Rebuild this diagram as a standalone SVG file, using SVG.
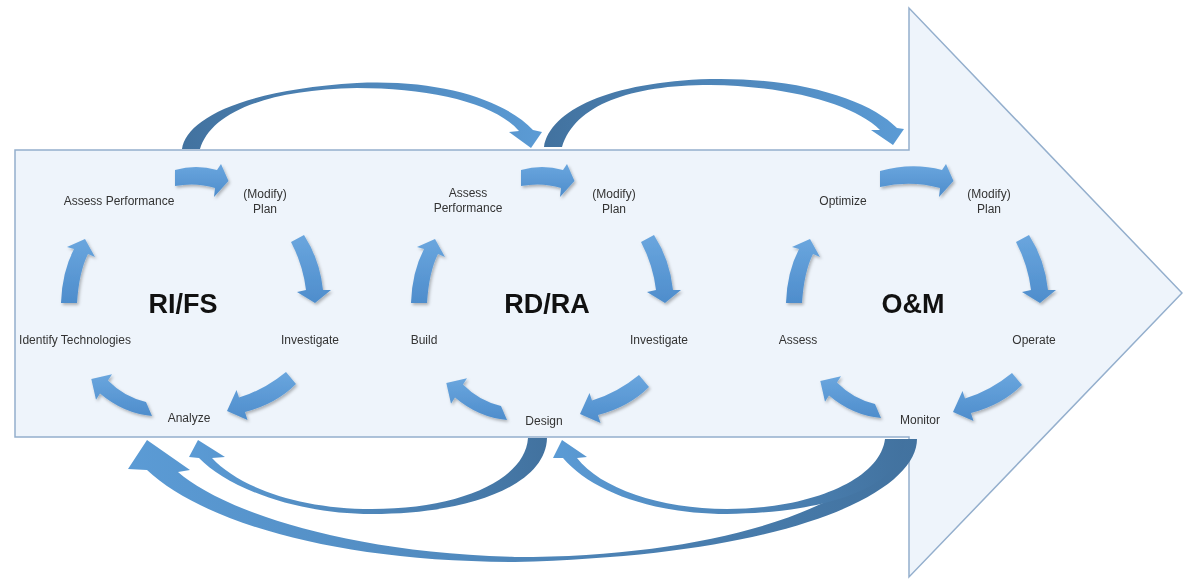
<svg xmlns="http://www.w3.org/2000/svg" width="1183" height="579" viewBox="0 0 1183 579">
<style>
  .lbl { font-family: "Liberation Sans", Arial, sans-serif; font-size: 12px; fill: #333; text-anchor: middle; }
  .ttl { font-family: "Liberation Sans", Arial, sans-serif; font-size: 27px; font-weight: bold; fill: #111; text-anchor: middle; }
  .sm { fill: url(#gSmall); }
  .top { fill: url(#gTop); }
  .bot { fill: url(#gBot); }
</style>
<defs>
  <linearGradient id="gSmall" x1="0" y1="0" x2="0" y2="1">
    <stop offset="0" stop-color="#6AA6DE"/>
    <stop offset="1" stop-color="#4E8DCC"/>
  </linearGradient>
  <linearGradient id="gTop" x1="0" y1="0" x2="1" y2="0">
    <stop offset="0" stop-color="#42729F"/>
    <stop offset="1" stop-color="#5B9BD5"/>
  </linearGradient>
  <linearGradient id="gBot" x1="1" y1="0" x2="0" y2="0">
    <stop offset="0" stop-color="#42729F"/>
    <stop offset="1" stop-color="#5B9BD5"/>
  </linearGradient>
  <filter id="sh" x="-30%" y="-30%" width="160%" height="160%">
    <feDropShadow dx="1.5" dy="2" stdDeviation="1.5" flood-color="#000" flood-opacity="0.28"/>
  </filter>
  <path id="c-top" d="M175,170 Q196,164 217,170 L221,164 L228.5,181 L214,197 L215,188 Q196,182 175,186 Z"/>
  <path id="c-right" d="M291,242 L304,235 Q320,260 323,290 L331,290 L315,303 L297,292 L306,290 Q303,265 291,242 Z"/>
  <path id="c-br" d="M286,372 L296,384 Q276,404 245,412 L247.5,420 L227,411 L236.5,390 L239,397.5 Q264,390 286,372 Z"/>
  <path id="c-bl" d="M146,402 L152,416 Q123,413 100,393.4 L96,399.7 L91.3,379 L112,374.3 L108,380.6 Q124,397 146,402 Z"/>
  <path id="c-left" d="M61,303 L77,303 Q79,272 88,254 L95,257 L85,239 L67,247 L74,249 Q62,272 61,303 Z"/>
</defs>

<g id="background-arrow">
  <path d="M15,150 L909,150 L909,8 L1182,293 L909,577 L909,437 L15,437 Z" fill="#EEF4FB" stroke="#94AFCD" stroke-width="1.5"/>
</g>

<g id="connectors">
  <g id="phase-arrows">
    <path class="top" d="M182,149 C186,120 240,90 357,83 C440,79 505,100 533,130 L542,132 L531,148 L509,132 L519,131 C495,103 430,88 357,88 C260,90 210,115 200,149 Z"/>
    <path class="top" d="M544,147 C550,110 610,82 710,79 C800,77 870,100 897,128 L904,129 L893,145 L871,130 L880,130 C855,105 790,86 710,85 C630,85 575,105 562,147 Z"/>
    <path class="bot" d="M895,439 L917,439 C917,490 800,555 515,562 C330,562 200,520 147,470 L128,469 L147,440 L190,470 L178,472 C215,505 330,552 515,557 C720,557 870,505 895,439 Z"/>
    <path class="bot" d="M528,438 L547,438 C546,485 470,514 372,514 C290,514 225,485 199,458 L189,457 L198,440 L225,457 L212,458 C240,488 300,509 372,509 C460,509 525,480 528,438 Z"/>
    <path class="bot" d="M885,439 L905,439 C903,490 820,513 727,514 C650,514 590,490 563,458 L553,458 L562,440 L587,457 L577,458 C600,488 660,509 727,509 C810,509 880,480 885,439 Z"/>
  </g>
  <g id="cycle-rifs" class="sm" filter="url(#sh)">
    <use href="#c-top"/>
    <use href="#c-right"/>
    <use href="#c-br"/>
    <use href="#c-bl"/>
    <use href="#c-left"/>
  </g>
  <g id="cycle-rdra" class="sm" filter="url(#sh)">
    <use href="#c-top" transform="translate(346,0)"/>
    <use href="#c-right" transform="translate(350,0)"/>
    <use href="#c-br" transform="translate(353,3)"/>
    <use href="#c-bl" transform="translate(355,4)"/>
    <use href="#c-left" transform="translate(350,0)"/>
  </g>
  <g id="cycle-om" class="sm" filter="url(#sh)">
    <path d="M880,171 Q912,162 942,170 L946,164 L953.5,181 L939,197 L940,188 Q911,180 880,187 Z"/>
    <use href="#c-right" transform="translate(725,0)"/>
    <use href="#c-br" transform="translate(726,1)"/>
    <use href="#c-bl" transform="translate(729,2)"/>
    <use href="#c-left" transform="translate(725,0)"/>
  </g>
</g>

<g id="rifs">
  <text class="ttl" x="183" y="313">RI/FS</text>
  <g id="rifs-assess"><text class="lbl" x="119" y="205">Assess Performance</text></g>
  <g id="rifs-plan"><text class="lbl" x="265" y="198">(Modify)</text><text class="lbl" x="265" y="213">Plan</text></g>
  <g id="rifs-investigate"><text class="lbl" x="310" y="344">Investigate</text></g>
  <g id="rifs-analyze"><text class="lbl" x="189" y="422">Analyze</text></g>
  <g id="rifs-identify"><text class="lbl" x="75" y="344">Identify Technologies</text></g>
</g>

<g id="rdra">
  <text class="ttl" x="547" y="313">RD/RA</text>
  <g id="rdra-assess"><text class="lbl" x="468" y="197">Assess</text><text class="lbl" x="468" y="212">Performance</text></g>
  <g id="rdra-plan"><text class="lbl" x="614" y="198">(Modify)</text><text class="lbl" x="614" y="213">Plan</text></g>
  <g id="rdra-investigate"><text class="lbl" x="659" y="344">Investigate</text></g>
  <g id="rdra-design"><text class="lbl" x="544" y="425">Design</text></g>
  <g id="rdra-build"><text class="lbl" x="424" y="344">Build</text></g>
</g>

<g id="om">
  <text class="ttl" x="913" y="313">O&amp;M</text>
  <g id="om-optimize"><text class="lbl" x="843" y="205">Optimize</text></g>
  <g id="om-plan"><text class="lbl" x="989" y="198">(Modify)</text><text class="lbl" x="989" y="213">Plan</text></g>
  <g id="om-operate"><text class="lbl" x="1034" y="344">Operate</text></g>
  <g id="om-monitor"><text class="lbl" x="920" y="424">Monitor</text></g>
  <g id="om-assess"><text class="lbl" x="798" y="344">Assess</text></g>
</g>
</svg>
